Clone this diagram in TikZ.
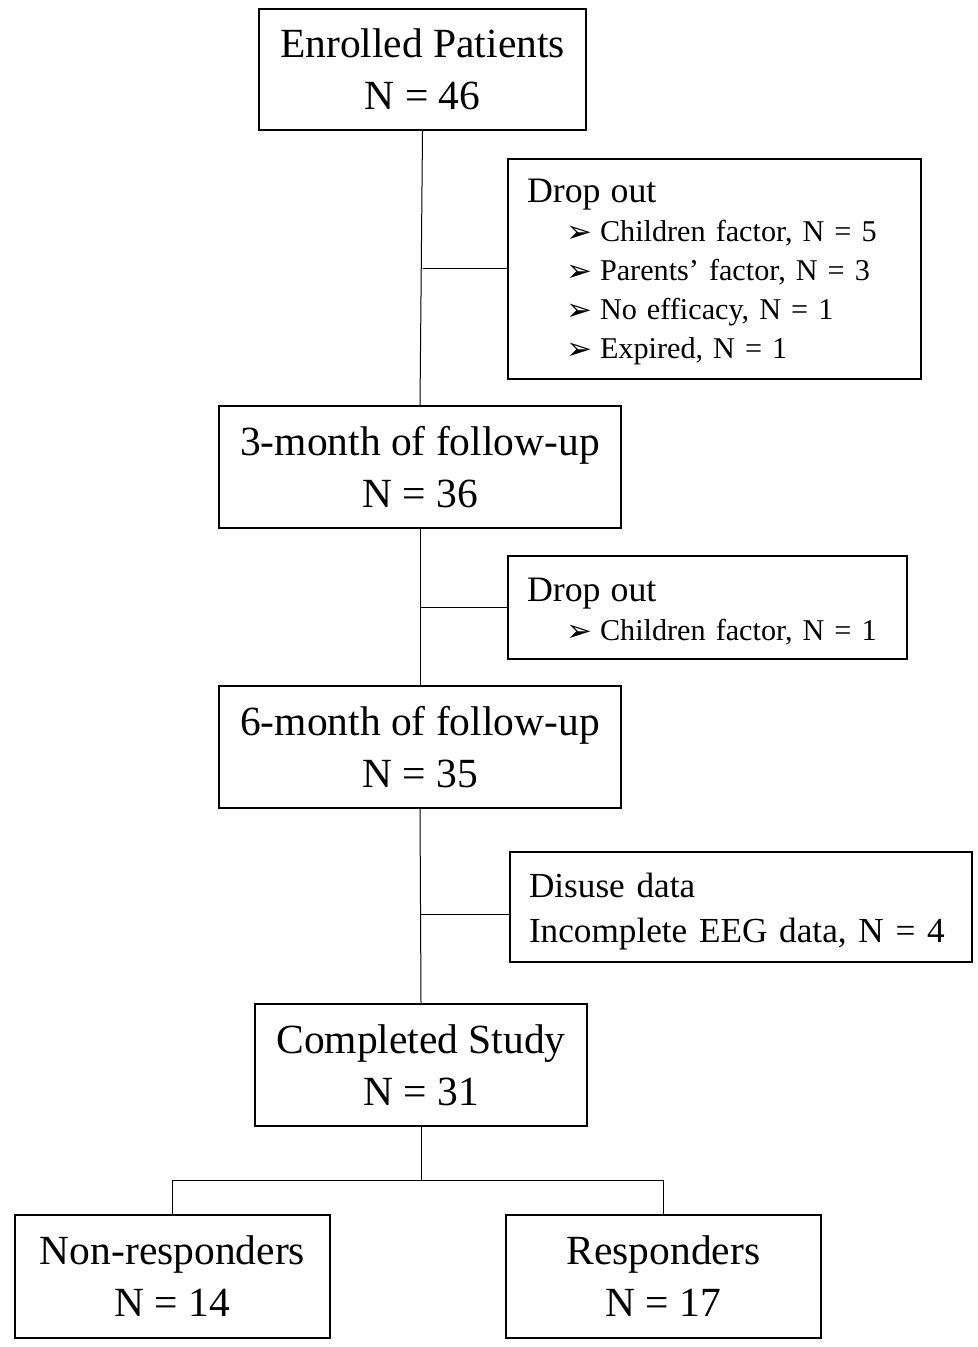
\documentclass[tikz,border=0pt]{standalone}
\usepackage{fontspec}
\setmainfont{Liberation Serif}
\newfontfamily\arrowfont{DejaVu Sans}
\usetikzlibrary{positioning}
\newcommand{\droparrow}{\makebox[17pt][l]{\raisebox{-0.5pt}{\arrowfont\fontsize{15.5}{15.5}\selectfont ➢}}}
\newcommand{\drophead}[1]{{\fontsize{17.9}{19.5}\selectfont #1}}

\begin{document}
\begin{tikzpicture}[
  x=0.5pt, y=-0.5pt,
  flowbox/.style={draw=black, line width=1pt, fill=white, inner sep=0pt, align=center, font=\fontsize{20.75}{26}\selectfont},
  dropbox/.style={draw=black, line width=1pt, fill=white, inner xsep=9.5pt, inner ysep=0pt, align=left, font=\fontsize{15.1}{19.5}\selectfont},
  link/.style={draw=black, line width=0.5pt}
]
\useasboundingbox[fill=white] (0,0) rectangle (978,1347);

\node[flowbox, minimum width=163.5pt, minimum height=60.5pt] (enrolled) at (422.5,69.5) {Enrolled Patients\\N = 46};
\node[dropbox, text width=187.5pt, minimum height=110pt] (drop1) at (714.5,269) {
  \rule{0pt}{15pt}\drophead{Drop out}\\
  \hspace*{19.5pt}\droparrow Children factor, N = 5\\
  \hspace*{19.5pt}\droparrow Parents’ factor, N = 3\\
  \hspace*{19.5pt}\droparrow No efficacy, N = 1\\
  \hspace*{19.5pt}\droparrow Expired, N = 1
};
\node[flowbox, minimum width=201pt, minimum height=61pt] (month3) at (420,467) {3-month of follow-up\\N = 36};
\node[dropbox, text width=180.5pt, minimum height=51.5pt] (drop2) at (707.5,607.5) {
  \rule{0pt}{16pt}\drophead{Drop out}\\
  \hspace*{19.5pt}\droparrow Children factor, N = 1
};
\node[flowbox, minimum width=201pt, minimum height=61pt] (month6) at (420,747) {6-month of follow-up\\N = 35};
\node[dropbox, text width=212pt, minimum height=55pt, font=\fontsize{17.6}{22.5}\selectfont] (disuse) at (741,907) {
  \rule{0pt}{16.5pt}Disuse data\\
  Incomplete EEG data, N = 4
};
\node[flowbox, minimum width=166pt, minimum height=61pt] (completed) at (421,1065) {Completed Study\\N = 31};
\node[flowbox, minimum width=157.5pt, minimum height=61.5pt] (nonresp) at (172.5,1276.5) {Non-responders\\N = 14};
\node[flowbox, minimum width=157.5pt, minimum height=61.5pt] (resp) at (663.5,1276.5) {Responders\\N = 17};
\coordinate (split) at (421,1180);

\draw[link] (enrolled.south) -- (month3.north);
\draw[link] (drop1.west -| enrolled.south) -- (drop1.west);
\draw[link] (month3.south) -- (month6.north);
\draw[link] (drop2.west -| month3.south) -- (drop2.west);
\draw[link] (month6.south) -- (completed.north);
\draw[link] (month6.south |- disuse.west) ++(0,7) -- ([yshift=-3.5pt]disuse.west);
\draw[link] (completed.south) -- (split);
\draw[link] (nonresp.north) |- (split) -| (resp.north);
\end{tikzpicture}
\end{document}
